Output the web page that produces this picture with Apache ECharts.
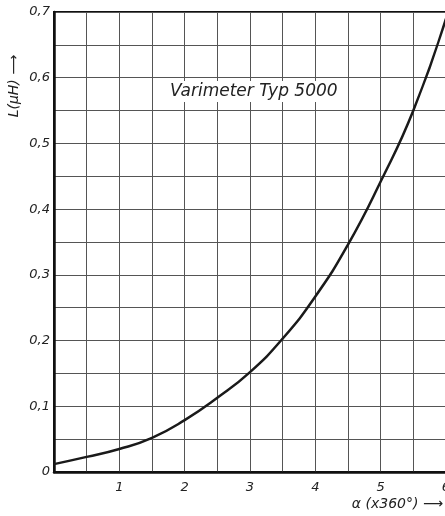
<!DOCTYPE html>
<html>
<head>
<meta charset="utf-8">
<script src="https://cdn.jsdelivr.net/npm/echarts@6/dist/echarts.min.js"></script>
<style>
html,body{margin:0;padding:0;background:#fff;}
#c{width:445px;height:516px;}
</style>
</head>
<body>
<div id="c"></div>
<script>
const xValues = [0, 0.5, 1, 1.5, 2, 2.5, 3, 3.5, 4, 4.5, 5, 5.5, 6];
const lValues = [0.012, 0.023, 0.035, 0.052, 0.079, 0.113, 0.152, 0.203, 0.267, 0.346, 0.442, 0.55, 0.69];
const xTickLabels = ['1', '2', '3', '4', '5', '6'];
const yTickLabels = ['0', '0,1', '0,2', '0,3', '0,4', '0,5', '0,6', '0,7'];
const titleText = 'Varimeter Typ 5000';
const xName = 'α (x360°) ⟶';
const yName = 'L(μH) ⟶';

const chart = echarts.init(document.getElementById('c'));
const fontFam = '"DejaVu Sans", sans-serif';
const isMult = (v, step) => Math.abs(v / step - Math.round(v / step)) < 1e-6;

chart.setOption({
  backgroundColor: '#fff',
  animation: false,
  grid: { left: 54, top: 12, width: 392, height: 460, outerBoundsMode: 'none', containLabel: false, show: true, borderColor: '#111', borderWidth: 2, backgroundColor: 'transparent' },
  xAxis: {
    type: 'value', min: 0, max: 6, interval: 0.5,
    axisLine: { show: true, lineStyle: { color: '#111', width: 2.5 } },
    axisTick: { show: false },
    splitLine: { show: true, lineStyle: { color: '#555', width: 1 } },
    axisLabel: {
      margin: 9, color: '#222', fontSize: 13, fontStyle: 'italic', fontFamily: fontFam,
      formatter: v => (v > 0 && isMult(v, 1)) ? xTickLabels[Math.round(v) - 1] : ''
    }
  },
  yAxis: {
    type: 'value', min: 0, max: 0.7, interval: 0.05,
    axisLine: { show: true, lineStyle: { color: '#111', width: 2.5 } },
    axisTick: { show: false },
    splitLine: { show: true, lineStyle: { color: '#555', width: 1 } },
    axisLabel: {
      margin: 4, color: '#222', fontSize: 13, fontStyle: 'italic', fontFamily: fontFam,
      formatter: v => isMult(v, 0.1) ? yTickLabels[Math.round(v * 10)] : ''
    }
  },
  series: [{
    type: 'line',
    data: xValues.map((x, i) => [x, lValues[i]]),
    smooth: 0.5,
    showSymbol: false,
    lineStyle: { color: '#1a1a1a', width: 2.5 },
    z: 5
  }],
  graphic: [
    {
      type: 'text', left: 166, top: 81, z: 10,
      style: {
        text: titleText, fill: '#222', font: 'italic 17px ' + fontFam,
        backgroundColor: '#fff', padding: [2, 4]
      }
    },
    {
      type: 'text', x: 14, y: 86, rotation: Math.PI / 2, z: 10,
      style: { text: yName, fill: '#222', font: 'italic 14px ' + fontFam, align: 'center', verticalAlign: 'middle' }
    },
    {
      type: 'text', right: 2, top: 497, z: 10,
      style: { text: xName, fill: '#222', font: 'italic 14px ' + fontFam }
    }
  ]
});
</script>
</body>
</html>
